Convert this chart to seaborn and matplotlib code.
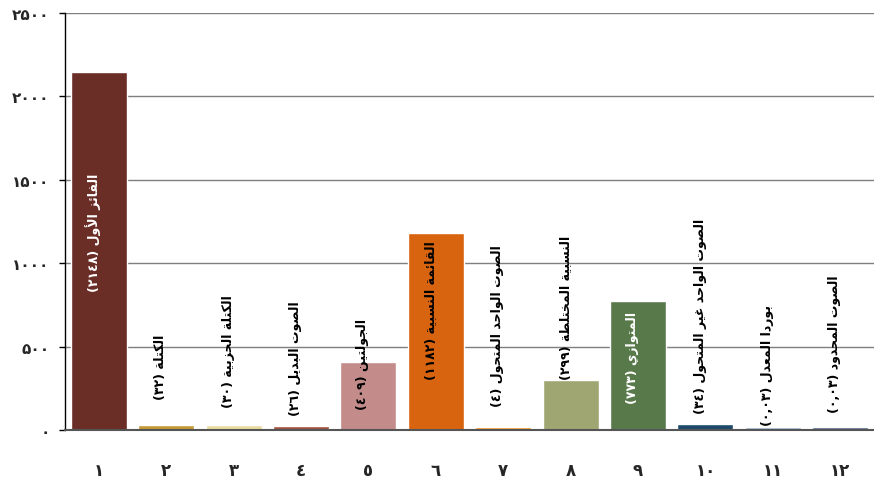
#!/usr/bin/env python3
"""Electoral systems bar chart (Arabic labels, Arabic-Indic digits)."""
import re

import matplotlib

matplotlib.use("Agg")
import matplotlib.pyplot as plt
import pandas as pd
import seaborn as sns

# --- data -------------------------------------------------------------------
categories = ["١", "٢", "٣", "٤", "٥", "٦", "٧", "٨", "٩", "١٠", "١١", "١٢"]
values = [2148, 32, 30, 26, 409, 1182, 15, 299, 773, 34, 20, 15]
names = [
    "الفائز الأول",
    "الكتلة",
    "الكتلة الحزبية",
    "الصوت البديل",
    "الجولتين",
    "القائمة النسبية",
    "الصوت الواحد المتحول",
    "النسبية المختلطة",
    "المتوازي",
    "الصوت الواحد غير المتحول",
    "بوردا المعدل",
    "الصوت المحدود",
]
counts = ["٢١٤٨", "٣٢", "٣٠", "٢٦", "٤٠٩", "١١٨٢", "٤", "٢٩٩", "٧٧٣", "٣٤", "٠,٠٣", "٠,٠٣"]
bar_colors = [
    "#6A2E27", "#C49A38", "#E8DCA0", "#A3523E", "#C38C8B", "#D9640F",
    "#F0952E", "#A0A672", "#58794A", "#1D4A6B", "#9AB4D0", "#566C90",
]
y_ticks = [0, 500, 1000, 1500, 2000, 2500]
y_tick_labels = ["٠", "۵٠٠", "١٠٠٠", "١۵٠٠", "٢٠٠٠", "٢۵٠٠"]

# --- layout of the rotated labels (centre height, in data units) ----------
label_mid = [1188, 384, 474, 432, 402, 720, 630, 738, 438, 690, 390, 522]
label_color = ["white", "black", "black", "black", "black", "black",
               "black", "black", "white", "black", "black", "black"]

# --- minimal Arabic shaping (matplotlib does no contextual shaping) -------
# letter -> (isolated presentation form, dual joining?)
FORMS = {
    "ا": (0xFE8D, False), "أ": (0xFE83, False), "ب": (0xFE8F, True),
    "ة": (0xFE93, False), "ت": (0xFE95, True), "ج": (0xFE9D, True),
    "ح": (0xFEA1, True), "خ": (0xFEA5, True), "د": (0xFEA9, False),
    "ر": (0xFEAD, False), "ز": (0xFEAF, False), "س": (0xFEB1, True),
    "ص": (0xFEB9, True), "ط": (0xFEC1, True), "ع": (0xFEC9, True),
    "غ": (0xFECD, True), "ف": (0xFED1, True), "ق": (0xFED5, True),
    "ك": (0xFED9, True), "ل": (0xFEDD, True), "م": (0xFEE1, True),
    "ن": (0xFEE5, True), "و": (0xFEED, False), "ي": (0xFEF1, True),
    "ئ": (0xFE89, True),
}
LAM_ALEF = {"ا": 0xFEFB, "أ": 0xFEF7}


def shape(text: str) -> str:
    out = []
    i = 0
    while i < len(text):
        c = text[i]
        prev = text[i - 1] if i > 0 else ""
        nxt = text[i + 1] if i + 1 < len(text) else ""
        if c not in FORMS:
            out.append(c)
            i += 1
            continue
        link_prev = prev in FORMS and FORMS[prev][1]
        if c == "ل" and nxt in LAM_ALEF:
            out.append(chr(LAM_ALEF[nxt] + (1 if link_prev else 0)))
            i += 2
            continue
        base, dual = FORMS[c]
        link_next = dual and nxt in FORMS
        if link_prev and link_next:
            code = base + 3
        elif link_prev:
            code = base + 1
        elif link_next:
            code = base + 2
        else:
            code = base
        out.append(chr(code))
        i += 1
    return "".join(out)


def visual(text: str) -> str:
    s = shape(text)[::-1].translate(str.maketrans("()", ")("))
    return re.sub(r"[٠-٩۰-۹][٠-٩۰-۹,٫]*", lambda m: m.group(0)[::-1], s)


# --- plot -------------------------------------------------------------------
df = pd.DataFrame({"system": categories, "count": values})

sns.set_theme(style="white")
plt.rcParams["font.family"] = ["DejaVu Sans"]

fig = plt.figure(figsize=(8.74, 4.81), dpi=100)
ax = fig.add_axes([65 / 874, 50 / 481, 809 / 874, 417 / 481])

sns.barplot(
    data=df, x="system", y="count", hue="system", palette=bar_colors,
    order=categories, hue_order=categories, legend=False, saturation=1,
    width=0.83, ax=ax,
)

ax.set_xlim(-0.5, len(categories) - 0.5)
ax.set_ylim(0, 2500)
ax.set_yticks(y_ticks)
ax.set_yticklabels(y_tick_labels, fontsize=11, fontweight="bold")
ax.set_xticks(range(len(categories)))
ax.set_xticklabels(categories, fontsize=12, fontweight="bold")
ax.set_xlabel("")
ax.set_ylabel("")

ax.yaxis.grid(True, color="#7F7F7F", linewidth=1)
ax.set_axisbelow(True)
for side in ("top", "right"):
    ax.spines[side].set_visible(False)
ax.spines["left"].set_color("black")
ax.spines["left"].set_linewidth(1)
ax.spines["bottom"].set_color("#555555")
ax.spines["bottom"].set_linewidth(1.5)
ax.tick_params(axis="x", length=0, pad=22)
ax.tick_params(axis="y", length=4, width=1, color="black", direction="out", pad=7, left=True)

for i, (name, cnt) in enumerate(zip(names, counts)):
    ax.text(
        i - 0.08, label_mid[i], visual(f"{name} ({cnt})"),
        rotation=90, ha="center", va="center", fontsize=9,
        fontweight="bold", color=label_color[i],
    )

fig.savefig("out.png", dpi=100)
